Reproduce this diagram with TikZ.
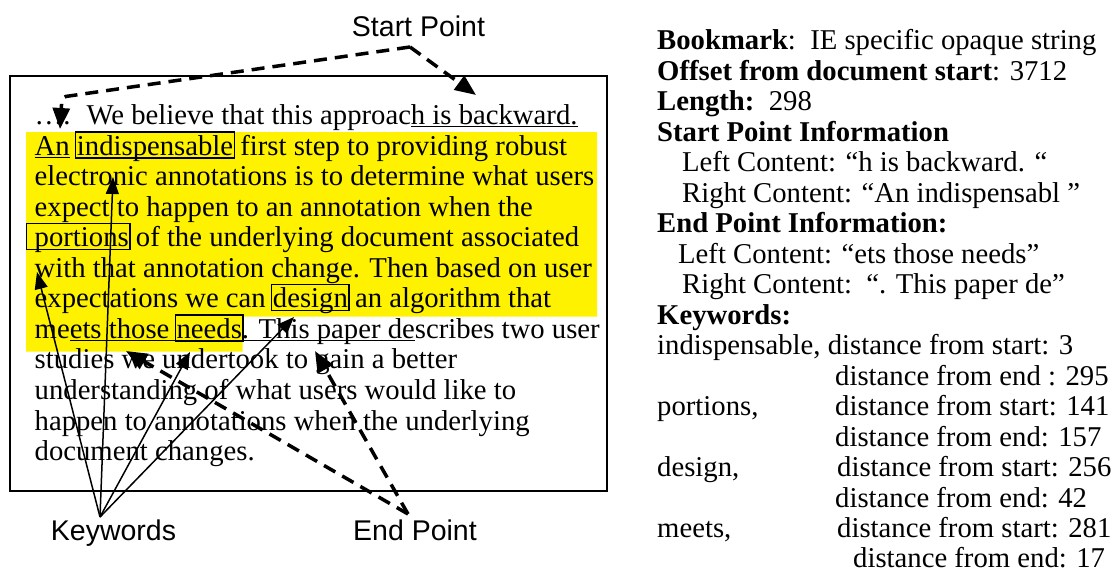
\documentclass[tikz,border=0pt]{standalone}
\usepackage{fontspec}
\setmainfont{Liberation Serif}
\newfontfamily\arialf{Liberation Sans}
\usetikzlibrary{arrows.meta}

\newsavebox\kbx
\newsavebox\ulbx
% underline with fixed depth
\newcommand\ulw[1]{\sbox\ulbx{#1}\leavevmode\rlap{\rule[-3pt]{\wd\ulbx}{1.3pt}}\usebox\ulbx}
% keyword box drawn around a word
\newcommand\kbox[2][2pt]{\sbox\kbx{#2}%
  \leavevmode\rlap{\kern-#1\lower3.5pt\hbox{\vrule width1.5pt height27.5pt depth0pt%
  \vbox to 27.5pt{\hrule height1.5pt width\dimexpr\wd\kbx+#1-1pt\relax\vfil\hrule height1.5pt}%
  \vrule width1.5pt height27.5pt depth0pt}}%
  \usebox\kbx}

\tikzset{
  txt/.style={anchor=base west, inner sep=0pt, font=\fontsize{28.7}{30.55}\selectfont},
  lbl/.style={anchor=base, inner sep=0pt, font=\arialf\fontsize{28.5}{30}\selectfont},
  kwarrow/.style={line width=1.5pt, -{Triangle[length=17pt,width=13pt]}},
  ptarrow/.style={line width=3.5pt, dash pattern=on 13pt off 8pt, -{Triangle[length=21pt,width=17pt]}},
  textframe/.style={draw, line width=2pt, inner sep=0pt, anchor=north west},
  hilite/.style={fill=yellow}
}

\begin{document}
\begin{tikzpicture}[x=1pt,y=-1pt]
\useasboundingbox (0,0) rectangle (1115,575);

% highlighted passage
\fill[hilite] (26,132) -- (597,132) -- (597,316.7) -- (242.7,316.7) -- (242.7,351.7) -- (26,351.7) -- cycle;

% frame of the document excerpt
\node[textframe, minimum width=597pt, minimum height=415pt] (frame) at (8.5,75) {};

% document text
\node[txt] (l1)  at (34.5,124.5) {\ldots.\hspace{16pt}We believe that this approac\ulw{h is backward.}};
\node[txt] (l2)  at (34.5,155.05) {\ulw{An} \kbox{indispensable} first step to providing robust};
\node[txt] (l3)  at (34.5,185.6) {electronic annotations is to determine what users};
\node[txt] (l4)  at (34.5,216.15) {expect to happen to an annotation when the};
\node[txt] (l5)  at (34.5,246.7) {\kbox[9pt]{portions} of the underlying document associated};
\node[txt] (l6)  at (34.5,277.25) {with that annotation change. Then based on user};
\node[txt] (l7)  at (34.5,307.8) {expectations we can \kbox{design} an algorithm that};
\node[txt] (l8)  at (34.5,338.35) {me\ulw{ets those \kbox{needs}. This paper de}scribes two user};
\node[txt] (l9)  at (34.5,368.9) {studies we undertook to gain a better};
\node[txt] (l10) at (34.5,399.45) {understanding of what users would like to};
\node[txt] (l11) at (34.5,430) {happen to annotations when the underlying};
\node[txt] (l12) at (34.5,460.55) {document changes.};

% labels
\node[lbl] (startlbl) at (418.5,37) {Start Point};
\node[lbl] (kwlbl) at (113.5,540) {Keywords};
\node[lbl] (endlbl) at (415,540) {End Point};

% arrow coordinates
\coordinate (sA) at (410,47);
\coordinate (sC) at (62,97);
\coordinate (sL) at (60,129);
\coordinate (sR) at (476,95);
\coordinate (eA) at (408,514);
\coordinate (eL) at (126,351);
\coordinate (eR) at (315,351);
\coordinate (kA) at (100,517);
\coordinate (k1) at (113,177);
\coordinate (k2) at (37,272);
\coordinate (k3) at (190,352);
\coordinate (k4) at (294,317);

% start point arrows
\draw[ptarrow, rounded corners=4pt] (sA) -- (sC) -- (sL);
\draw[ptarrow] (sA) -- (sR);
% end point arrows
\draw[ptarrow] (eA) -- (eL);
\draw[ptarrow] (eA) -- (eR);
% keyword arrows
\draw[kwarrow] (kA) -- (k1);
\draw[kwarrow] (kA) -- (k2);
\draw[kwarrow] (kA) -- (k3);
\draw[kwarrow] (kA) -- (k4);

% bookmark information
\node[txt] (r0)  at (657,50) {\textbf{Bookmark}:\ \ IE specific opaque string};
\node[txt] (r1)  at (657,80.47) {\textbf{Offset from document start}: 3712};
\node[txt] (r2)  at (657,110.94) {\textbf{Length:}\ \ 298};
\node[txt] (r3)  at (657,141.41) {\textbf{Start Point Information}};
\node[txt] (r4)  at (682,171.88) {Left Content: “h is backward. “};
\node[txt] (r5)  at (682,202.35) {Right Content: “An indispensabl ”};
\node[txt] (r6)  at (657,232.82) {\textbf{End Point Information:}};
\node[txt] (r7)  at (678,263.29) {Left Content: “ets those needs”};
\node[txt] (r8)  at (682,293.76) {Right Content:\ \ “. This paper de”};
\node[txt] (r9)  at (657,324.23) {\textbf{Keywords:}};
\node[txt] (r10) at (657,354.7) {indispensable, distance from start: 3};
\node[txt] (r11) at (835,385.17) {distance from end : 295};
\node[txt] (r12a) at (657,415.64) {portions,};
\node[txt] (r12b) at (835,415.64) {distance from start: 141};
\node[txt] (r13) at (835,446.11) {distance from end: 157};
\node[txt] (r14a) at (657,476.58) {design,};
\node[txt] (r14b) at (837,476.58) {distance from start: 256};
\node[txt] (r15) at (835,507.05) {distance from end: 42};
\node[txt] (r16a) at (657,537.52) {meets,};
\node[txt] (r16b) at (837,537.52) {distance from start: 281};
\node[txt] (r17) at (853,567.99) {distance from end: 17};
\end{tikzpicture}
\end{document}
